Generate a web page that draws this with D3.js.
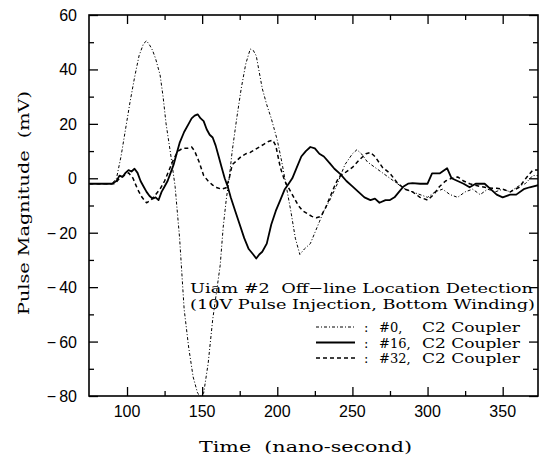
<!DOCTYPE html>
<html>
<head>
<meta charset="utf-8">
<script src="https://cdn.jsdelivr.net/npm/d3@7"></script>
<style>
  body { margin: 0; background: #fff; }
</style>
</head>
<body>
<div id="chart"></div>
<script>

// pulse traces (time in ns, magnitude in mV)
const ch0Time = [75, 90, 93, 96, 99, 102, 105, 108, 111, 113, 115, 117, 119, 122, 124, 126, 129, 132, 135, 138, 141, 144, 147, 149, 151, 154, 157, 160, 162, 164, 166, 168, 170, 173, 176, 179, 182, 184, 186, 188, 190, 193, 196, 198, 200, 203, 206, 209, 212, 215, 218, 222, 225, 228, 231, 235, 240, 245, 250, 253, 256, 260, 265, 270, 275, 280, 285, 290, 295, 300, 305, 310, 315, 320, 325, 330, 335, 340, 345, 350, 355, 360, 365, 370, 374];
const ch0Mag = [-2, -2, 0, 8, 18, 28, 37, 45, 49.5, 50.5, 49, 47, 44, 38, 30, 20, 9, -3, -22, -48, -62, -73, -79, -80, -79, -68, -52, -40, -32, -18, -8, 0, 10, 22, 33, 42, 47.5, 47, 45, 39, 33, 27, 22, 18, 14, 6, -3, -12, -22, -28, -26, -24, -20, -16, -12, -8, -2, 5, 9, 10.5, 9, 6, 4, 2, 0, -2, -4, -5, -6, -7, -5, -4, -6, -7, -5, -4, -6, -4, -5, -4, -5, -3, -2, 1, 1];

const ch16Time = [75, 90, 93, 95, 97, 99, 101, 103, 105, 107, 109, 111, 113, 115, 117, 119, 121, 123, 125, 127, 129, 131, 133, 135, 138, 141, 143, 145, 147, 149, 151, 153, 155, 157, 159, 161, 163, 165, 167, 169, 172, 175, 178, 181, 184, 186, 188, 190, 193, 196, 199, 202, 205, 207, 210, 213, 216, 219, 222, 225, 228, 231, 235, 238, 242, 246, 250, 254, 258, 262, 265, 268, 272, 275, 278, 281, 284, 287, 290, 295, 300, 303, 308, 313, 316, 320, 324, 328, 332, 338, 342, 346, 350, 355, 359, 364, 368, 374];
const ch16Mag = [-2, -2, -1, 1, 0.5, 2, 3, 2.5, 3.5, 2, -1, -3, -5, -6.5, -7.5, -7, -8, -5, -3, -1, 2, 5, 9, 13, 17, 20, 22, 23, 23.5, 22, 21, 18, 16, 15, 12, 8, 4, 0, -3, -7, -12, -17, -22, -26, -28, -29.5, -28, -27, -24, -17, -12, -8, -4, -2.5, 0, 4, 8, 10, 11.5, 11, 9, 8, 5.5, 3.5, 1.5, -1, -3, -5, -7, -8, -7.5, -9, -8, -8, -7, -5, -3, -2, -1.8, -2, -2, 1.8, 1.8, 3.7, 0, -1, -2, -3.3, -2, -2, -4, -6, -7, -6, -6, -4, -3.3, -2.5];

const ch32Time = [75, 92, 95, 98, 101, 104, 107, 110, 113, 116, 119, 122, 125, 128, 131, 134, 137, 140, 143, 145, 148, 151, 154, 157, 160, 163, 166, 168, 170, 173, 176, 179, 182, 185, 188, 191, 194, 197, 199, 202, 205, 208, 211, 214, 217, 220, 223, 226, 229, 232, 235, 238, 241, 245, 250, 255, 259, 262, 265, 270, 275, 280, 285, 290, 295, 300, 304, 308, 312, 316, 320, 324, 328, 335, 340, 346, 350, 355, 361, 366, 370, 374];
const ch32Mag = [-2, -2, 0, 1, 2, 0, -4, -7, -9, -8, -6, -4, -1, 3, 7, 10, 11, 11, 11.5, 10, 6, 1, -1, -2.5, -3.5, -4, -3.5, 0, 5, 6.5, 8, 9, 9.5, 10.5, 11.5, 12.5, 13.5, 14, 12, 4, -1, -4, -7, -10, -12, -13, -14, -14.5, -14, -11, -7, -3, 0.5, 2, 4, 7, 9, 9.5, 8, 4, 1.8, -1.8, -4, -5, -7, -8, -6, -3, -1, 0, 0.5, -1, -2, -3, -3.5, -3.7, -4, -5, -3.3, 0.4, 3, 3];

const seriesLabels = ["#0,", "#16,", "#32,"];
const xTicks = [100, 150, 200, 250, 300, 350];
const xMinor = [125, 175, 225, 275, 325];
const yTicks = [-80, -60, -40, -20, 0, 20, 40, 60];
const yMinor = [-70, -50, -30, -10, 10, 30, 50];

const width = 540;
const height = 464;
const plot = { left: 89, right: 538, top: 15, bottom: 396 };

const svg = d3.select("div#chart")
  .append("svg")
  .attr("width", width)
  .attr("height", height)
  .style("background", "#fff");

const x = d3.scaleLinear().domain([74.7, 373.5]).range([plot.left, plot.right]);
const y = d3.scaleLinear().domain([-80, 60]).range([plot.bottom, plot.top]);

svg.append("clipPath")
  .attr("id", "clip")
  .append("rect")
  .attr("x", plot.left)
  .attr("y", plot.top)
  .attr("width", plot.right - plot.left)
  .attr("height", plot.bottom - plot.top);

// inward ticks on all four sides
function tickAxis(axis, ticks, size, translate) {
  svg.append("g")
    .attr("transform", translate)
    .call(axis.tickValues(ticks).tickSize(size).tickFormat(""))
    .call(g => g.select(".domain").remove())
    .call(g => g.selectAll("line").attr("stroke", "#000").attr("stroke-width", 1.3));
}
tickAxis(d3.axisTop(x), xTicks, 9, `translate(0,${plot.bottom})`);
tickAxis(d3.axisTop(x), xMinor, 5, `translate(0,${plot.bottom})`);
tickAxis(d3.axisBottom(x), xTicks, 9, `translate(0,${plot.top})`);
tickAxis(d3.axisBottom(x), xMinor, 5, `translate(0,${plot.top})`);
tickAxis(d3.axisRight(y), yTicks, 9, `translate(${plot.left},0)`);
tickAxis(d3.axisRight(y), yMinor, 5, `translate(${plot.left},0)`);
tickAxis(d3.axisLeft(y), yTicks, 9, `translate(${plot.right},0)`);
tickAxis(d3.axisLeft(y), yMinor, 5, `translate(${plot.right},0)`);

svg.append("rect")
  .attr("x", plot.left)
  .attr("y", plot.top)
  .attr("width", plot.right - plot.left)
  .attr("height", plot.bottom - plot.top)
  .attr("fill", "none")
  .attr("stroke", "#000")
  .attr("stroke-width", 1.6);

const tickFont = "'Liberation Sans', Arial, sans-serif";
const serifFont = "'DejaVu Serif', serif";

svg.append("g")
  .selectAll("text")
  .data(xTicks)
  .join("text")
  .attr("x", d => x(d))
  .attr("y", plot.bottom + 21)
  .attr("text-anchor", "middle")
  .style("font", `16px ${tickFont}`)
  .text(d => d);

svg.append("g")
  .selectAll("text")
  .data(yTicks)
  .join("text")
  .attr("x", plot.left - 12)
  .attr("y", d => y(d) + 6)
  .attr("text-anchor", "end")
  .style("font", `16px ${tickFont}`)
  .text(d => d < 0 ? "\u2212\u2009" + Math.abs(d) : d);

svg.append("text")
  .attr("x", 199)
  .attr("y", 452)
  .attr("textLength", 213)
  .attr("lengthAdjust", "spacingAndGlyphs")
  .style("font", `15px ${serifFont}`)
  .style("white-space", "pre")
  .text("Time  (nano-second)");

svg.append("text")
  .attr("transform", "translate(29,315) rotate(-90)")
  .attr("textLength", 224)
  .attr("lengthAdjust", "spacingAndGlyphs")
  .style("font", `15px ${serifFont}`)
  .style("white-space", "pre")
  .text("Pulse Magnitude  (mV)");

const line = d3.line()
  .x(d => x(d[0]))
  .y(d => y(d[1]));

const series = [
  { time: ch0Time, mag: ch0Mag, dash: "3,2,1,2", w: 1 },
  { time: ch16Time, mag: ch16Mag, dash: null, w: 1.8 },
  { time: ch32Time, mag: ch32Mag, dash: "4,3", w: 1.5 }
];

svg.append("g")
  .attr("clip-path", "url(#clip)")
  .selectAll("path")
  .data(series)
  .join("path")
  .attr("d", s => line(d3.zip(s.time, s.mag)))
  .attr("fill", "none")
  .attr("stroke", "#000")
  .attr("stroke-width", s => s.w)
  .attr("stroke-dasharray", s => s.dash)
  .attr("stroke-linejoin", "round");

// annotation + legend
svg.append("text")
  .attr("x", 190)
  .attr("y", 292.5)
  .attr("textLength", 343)
  .attr("lengthAdjust", "spacingAndGlyphs")
  .style("font", `13.5px ${serifFont}`)
  .style("white-space", "pre")
  .text("Uiam #2  Off\u2212line Location Detection");

svg.append("text")
  .attr("x", 190)
  .attr("y", 309)
  .attr("textLength", 345)
  .attr("lengthAdjust", "spacingAndGlyphs")
  .style("font", `13.5px ${serifFont}`)
  .text("(10V Pulse Injection, Bottom Winding)");

const legend = svg.append("g")
  .selectAll("g")
  .data(series)
  .join("g")
  .attr("transform", (d, i) => `translate(0,${327 + i * 15.5})`);

legend.append("line")
  .attr("x1", 316)
  .attr("x2", 355)
  .attr("stroke", "#000")
  .attr("stroke-width", s => s.w)
  .attr("stroke-dasharray", s => s.dash);

const legendText = legend.append("text")
  .attr("y", 5)
  .style("font", `13px ${serifFont}`);

legendText.append("tspan")
  .attr("x", 364)
  .text(":");

legendText.append("tspan")
  .attr("x", 379)
  .text((d, i) => seriesLabels[i]);

legendText.append("tspan")
  .attr("x", 422)
  .attr("textLength", 98)
  .attr("lengthAdjust", "spacingAndGlyphs")
  .text("C2 Coupler");

</script>
</body>
</html>
